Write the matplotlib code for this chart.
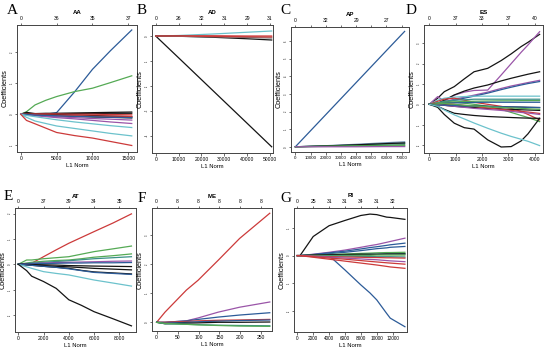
import matplotlib
matplotlib.use("Agg")
import matplotlib.pyplot as plt
import numpy as np

# ---------------- data ----------------
K, R, G, B, C, P = "#141414", "#cc3a3a", "#55aa55", "#2c5b98", "#6cc2cc", "#9a55a8"
T = "#3b8f88"  # teal

# Panel A (AA)
A_l1 = [0, 800, 2000, 3500, 5000, 7500, 10000, 12500, 15470]
A_coef = [
    [0, 0, 0, 0, 0.05, 0.72, 1.45, 2.05, 2.72],
    [0, 0.08, 0.30, 0.45, 0.57, 0.73, 0.84, 1.02, 1.24],
    [0, 0.01, 0.02, 0.03, 0.03, 0.04, 0.05, 0.06, 0.07],
    [0, 0, 0.01, 0.01, 0.02, 0.02, 0.02, 0.03, 0.03],
    [0, 0.06, 0.02, 0, -0.01, -0.02, -0.04, -0.06, -0.08],
    [0, -0.01, -0.02, -0.03, -0.05, -0.07, -0.09, -0.10, -0.12],
    [0, 0, 0.01, 0.01, 0.01, 0.0, 0.0, -0.01, -0.02],
    [0, -0.01, -0.02, -0.03, -0.04, -0.05, -0.06, -0.06, -0.07],
    [0, -0.02, -0.04, -0.06, -0.08, -0.11, -0.14, -0.16, -0.19],
    [0, -0.02, -0.05, -0.08, -0.11, -0.15, -0.20, -0.25, -0.30],
    [0, -0.01, -0.03, -0.04, -0.05, -0.07, -0.08, -0.10, -0.11],
    [0, -0.04, -0.08, -0.13, -0.18, -0.25, -0.31, -0.37, -0.43],
    [0, -0.10, -0.22, -0.30, -0.38, -0.46, -0.54, -0.62, -0.70],
    [0, -0.20, -0.31, -0.45, -0.59, -0.69, -0.77, -0.88, -1.01],
]
A_col = [B, G, K, K, K, K, R, R, P, P, B, C, C, R]
A_xt = [0, 5000, 10000, 15000]
A_df = ["0", "36", "35", "37"]

# Panel B (AD)
B_l1 = [0, 10000, 25000, 40000, 50740]
B_coef = [
    [0, -0.87, -2.18, -3.49, -4.43],
    [0, 0.02, 0.08, 0.15, 0.20],
    [0, 0.01, 0.01, 0.0, 0.0],
    [0, -0.01, -0.05, -0.11, -0.16],
    [0, -0.01, -0.03, -0.06, -0.08],
    [0, 0, -0.02, -0.03, -0.04],
]
B_col = [K, C, R, K, "#777777", R]
B_xt = [0, 10000, 20000, 30000, 40000, 50000]
B_df = ["0", "26", "32", "31", "29", "31"]

# Panel C (AP)
C_l1 = [0, 20000, 40000, 60000, 72000]
C_coef = [
    [0, 1.82, 3.64, 5.46, 6.55],
    [0, 0.06, 0.14, 0.23, 0.28],
    [0, 0.04, 0.10, 0.16, 0.19],
    [0, 0.05, 0.11, 0.18, 0.22],
    [0, 0.03, 0.06, 0.09, 0.11],
    [0, 0.02, 0.04, 0.05, 0.06],
    [0, 0.0, 0.0, 0.01, 0.01],
]
C_col = [B, "#6f8fb0", T, K, "#2f7f3f", G, P]
C_xt = [0, 10000, 20000, 30000, 40000, 50000, 60000, 70000]
C_df = ["0", "", "32", "", "29", "", "27", ""]

# Panel D (ES)
D_l1 = [0, 320, 570, 950, 1330, 1700, 2220, 2730, 3110, 3490, 3750, 4190]
D_coef = [
    [0, 0.30, 0.62, 0.87, 1.25, 1.60, 1.77, 2.15, 2.48, 2.84, 3.05, 3.44],
    [0, 0.38, 0.15, 0.45, 0.60, 0.68, 0.70, 1.44, 2.00, 2.56, 2.92, 3.57],
    [0, 0.05, 0.20, 0.46, 0.65, 0.80, 0.95, 1.15, 1.28, 1.40, 1.48, 1.60],
    [0, 0.05, 0.12, 0.25, 0.35, 0.45, 0.60, 0.78, 0.90, 1.00, 1.07, 1.18],
    [0, 0.04, 0.10, 0.20, 0.30, 0.40, 0.55, 0.72, 0.84, 0.95, 1.02, 1.12],
    [0, 0.20, 0.30, 0.35, 0.38, 0.40, 0.40, 0.40, 0.40, 0.40, 0.40, 0.40],
    [0, 0.15, 0.25, 0.30, 0.20, 0.10, 0.0, -0.10, -0.20, -0.35, -0.50, -0.77],
    [0, 0.05, 0.10, 0.10, 0.05, 0.0, -0.10, -0.25, -0.40, -0.55, -0.65, -0.85],
    [0, 0.08, 0.15, 0.20, 0.22, 0.25, 0.25, 0.25, 0.25, 0.25, 0.25, 0.25],
    [0, 0.05, 0.10, 0.12, 0.14, 0.15, 0.16, 0.17, 0.17, 0.18, 0.18, 0.18],
    [0, 0.03, 0.05, 0.07, 0.08, 0.09, 0.10, 0.10, 0.10, 0.10, 0.10, 0.10],
    [0, 0, -0.02, -0.05, -0.07, -0.08, -0.10, -0.12, -0.13, -0.14, -0.15, -0.16],
    [0, -0.02, -0.05, -0.10, -0.13, -0.16, -0.20, -0.23, -0.25, -0.27, -0.28, -0.30],
    [0, 0.02, 0.03, 0.0, -0.05, -0.10, -0.18, -0.25, -0.30, -0.35, -0.38, -0.45],
    [0, -0.02, -0.05, -0.10, -0.15, -0.20, -0.25, -0.30, -0.35, -0.40, -0.43, -0.50],
    [0, -0.03, -0.04, -0.06, -0.08, -0.09, -0.10, -0.12, -0.13, -0.14, -0.15, -0.16],
    [0, 0.02, 0.04, 0.0, -0.05, -0.08, -0.12, -0.15, -0.18, -0.20, -0.22, -0.25],
    [0, -0.10, -0.25, -0.44, -0.50, -0.55, -0.60, -0.63, -0.65, -0.67, -0.68, -0.69],
    [0, -0.15, -0.50, -0.93, -1.15, -1.22, -1.75, -2.10, -2.08, -1.80, -1.45, -0.69],
    [0, -0.10, -0.28, -0.52, -0.72, -0.92, -1.18, -1.42, -1.58, -1.72, -1.82, -2.03],
]
D_col = [K, P, K, P, B, C, R, G, T, G, B, K, K, R, P, B, G, K, K, C]
D_xt = [0, 1000, 2000, 3000, 4000]
D_df = ["0", "37", "33", "37", "40"]

# Panel E (AT)
E_l1 = [0, 660, 1060, 2000, 3000, 4000, 5000, 6000, 7500, 8960]
E_coef = [
    [0, 0.0, 0.04, 0.30, 0.57, 0.83, 1.06, 1.29, 1.63, 1.99],
    [0, 0.17, 0.17, 0.22, 0.26, 0.30, 0.40, 0.50, 0.61, 0.72],
    [0, 0.05, 0.08, 0.12, 0.15, 0.17, 0.22, 0.28, 0.34, 0.41],
    [0, 0.03, 0.05, 0.08, 0.11, 0.14, 0.18, 0.22, 0.26, 0.30],
    [0, 0.02, 0.03, 0.05, 0.07, 0.08, 0.09, 0.10, 0.12, 0.13],
    [0, 0.01, 0.02, 0.03, 0.04, 0.05, 0.05, 0.06, 0.06, 0.07],
    [0, 0, -0.01, -0.02, -0.03, -0.05, -0.06, -0.07, -0.08, -0.09],
    [0, -0.02, -0.03, -0.05, -0.08, -0.10, -0.13, -0.16, -0.19, -0.22],
    [0, -0.02, -0.04, -0.08, -0.12, -0.16, -0.24, -0.30, -0.34, -0.38],
    [0, -0.02, -0.04, -0.08, -0.12, -0.18, -0.25, -0.32, -0.36, -0.40],
    [0, -0.10, -0.16, -0.29, -0.36, -0.42, -0.52, -0.62, -0.74, -0.86],
    [0, -0.25, -0.47, -0.68, -0.95, -1.40, -1.62, -1.87, -2.15, -2.43],
]
E_col = [R, G, G, T, P, B, K, K, K, B, C, K]
E_xt = [0, 2000, 4000, 6000, 8000]
E_df = ["0", "37", "39", "34", "35"]

# Panel F (ME)
F_l1 = [0, 20, 71, 99, 147, 198, 270]
F_coef = [
    [0, 0.35, 1.11, 1.45, 2.14, 2.89, 3.76],
    [0, 0.0, 0.05, 0.15, 0.35, 0.52, 0.70],
    [0, 0.0, 0.05, 0.10, 0.18, 0.25, 0.33],
    [0, 0.0, 0.03, 0.05, 0.07, 0.08, 0.10],
    [0, -0.03, 0.0, 0.02, 0.04, 0.06, 0.08],
    [0, -0.05, -0.03, -0.02, 0.0, 0.0, 0.01],
    [0, -0.05, -0.07, -0.08, -0.10, -0.11, -0.12],
    [0, -0.04, -0.07, -0.09, -0.11, -0.13, -0.14],
]
F_col = [R, P, B, R, B, K, T, G]
F_xt = [0, 50, 100, 150, 200, 250]
F_df = ["0", "8", "8", "8", "8", "8"]

# Panel G (RI)
G_l1 = [0, 340, 2000, 4000, 6000, 8000, 9150, 10000, 11250, 11700, 13550]
G_coef = [
    [0, 0, 0.69, 1.08, 1.27, 1.45, 1.50, 1.48, 1.39, 1.38, 1.31],
    [0, 0, 0, 0, -0.52, -1.06, -1.35, -1.60, -2.09, -2.26, -2.57],
    [0, 0, 0.05, 0.12, 0.20, 0.30, 0.36, 0.40, 0.48, 0.51, 0.63],
    [0, 0, 0.04, 0.10, 0.16, 0.24, 0.29, 0.32, 0.37, 0.39, 0.45],
    [0, 0, 0.03, 0.07, 0.12, 0.18, 0.22, 0.25, 0.28, 0.30, 0.33],
    [0, 0, 0.02, 0.04, 0.06, 0.08, 0.09, 0.10, 0.11, 0.11, 0.12],
    [0, 0, 0.01, 0.02, 0.03, 0.04, 0.05, 0.05, 0.06, 0.06, 0.07],
    [0, 0, 0.02, 0.03, 0.04, 0.05, 0.05, 0.05, 0.06, 0.06, 0.06],
    [0, 0, 0, 0, 0.01, 0.01, 0.01, 0.02, 0.02, 0.02, 0.02],
    [0, 0, -0.01, -0.02, -0.02, -0.03, -0.03, -0.04, -0.04, -0.04, -0.05],
    [0, 0, -0.02, -0.04, -0.05, -0.06, -0.07, -0.07, -0.08, -0.08, -0.09],
    [0, 0, -0.03, -0.06, -0.09, -0.12, -0.14, -0.15, -0.18, -0.19, -0.22],
    [0, 0, -0.04, -0.09, -0.13, -0.18, -0.21, -0.23, -0.26, -0.27, -0.31],
    [0, 0, -0.06, -0.13, -0.20, -0.27, -0.31, -0.34, -0.39, -0.41, -0.46],
]
G_col = [K, B, P, B, B, G, T, K, G, T, R, P, R, R]
G_xt = [0, 2000, 4000, 6000, 8000, 10000, 12000]
G_df = ["0", "25", "31", "31", "34", "31", "32"]

# ---------------- drawing ----------------
W, H = 550, 356
fig = plt.figure(figsize=(5.5, 3.56), dpi=100)
SANS = ["Liberation Sans", "DejaVu Sans"]
SERIF = ["Liberation Serif", "DejaVu Serif"]


def panel(box, letter, lpos, title, l1, coef, cols, xt, df, xlim, ylim, yt,
          tfs=3.6):
    L, Tp, Rt, Bt = box
    ax = fig.add_axes([L / W, 1 - Bt / H, (Rt - L) / W, (Bt - Tp) / H])
    for ys, c in zip(coef, cols):
        ax.plot(l1, ys, color=c, lw=0.9, solid_joinstyle="round")
    ax.set_xlim(*xlim)
    ax.set_ylim(*ylim)
    ax.set_xticks(xt)
    ax.set_xticklabels([str(v) for v in xt], fontsize=tfs, family=SANS)
    ax.set_yticks(yt)
    ax.set_yticklabels([str(v) for v in yt], fontsize=1.8, rotation=90,
                       va="center", family=SANS)
    ax.tick_params(length=1.8, width=0.5, pad=1.0, color="#333333")
    ax.tick_params(axis="y", pad=0.5)
    for s in ax.spines.values():
        s.set_linewidth(0.7)
        s.set_color("#444444")
    sec = ax.secondary_xaxis("top")
    sec.set_xticks(xt)
    sec.set_xticklabels(df, fontsize=3.6, family=SANS)
    sec.tick_params(length=1.8, width=0.5, pad=1.0, color="#333333")
    sec.spines["top"].set_visible(False)
    ax.set_xlabel("L1 Norm", fontsize=4.2, family=SANS, labelpad=1.5)
    ax.set_ylabel("Coefficients", fontsize=5.3, family=SANS, labelpad=0.6)
    ax.text(0.5, 1 + 12.0 / (Bt - Tp), title, transform=ax.transAxes,
            ha="center", va="center", fontsize=4.4, fontweight="bold",
            family=SANS)
    fig.text(lpos[0] / W, 1 - lpos[1] / H, letter, fontsize=11,
             family=SERIF, ha="center", va="center")
    return ax


panel((16.7, 25, 137, 152), "A", (12, 10), "AA", A_l1, A_coef, A_col,
      A_xt, A_df, (-560, 16200), (-1.22, 2.88), [-1, 0, 1, 2])
panel((152, 25, 273.3, 153.3), "B", (142, 11), "AD", B_l1, B_coef, B_col,
      B_xt, B_df, (-1620, 51450), (-4.69, 0.44), [-4, -3, -2, -1, 0])
panel((291, 27, 409, 151.7), "C", (285, 11), "AP", C_l1, C_coef, C_col,
      C_xt, C_df, (-2880, 74880), (-0.28, 6.8), [0, 1, 2, 3, 4, 5, 6],
      tfs=3.2)
panel((424, 25, 543.3, 153.3), "D", (411, 11), "ES", D_l1, D_coef, D_col,
      D_xt, D_df, (-200, 4330), (-2.41, 3.9), [-2, -1, 0, 1, 2, 3])
panel((15, 208.3, 136, 331.7), "E", (8, 197), "AT", E_l1, E_coef, E_col,
      E_xt, E_df, (-260, 9320), (-2.66, 2.21), [-2, -1, 0, 1, 2])
panel((152, 208.3, 272.3, 331), "F", (142, 199), "ME", F_l1, F_coef, F_col,
      F_xt, F_df, (-11, 276), (-0.3, 3.93), [0, 1, 2, 3])
panel((294, 208, 407.3, 331.7), "G", (286, 198), "RI", G_l1, G_coef, G_col,
      G_xt, G_df, (-420, 13850), (-2.75, 1.72), [-2, -1, 0, 1], tfs=3.4)

fig.savefig("out.png", dpi=100)
